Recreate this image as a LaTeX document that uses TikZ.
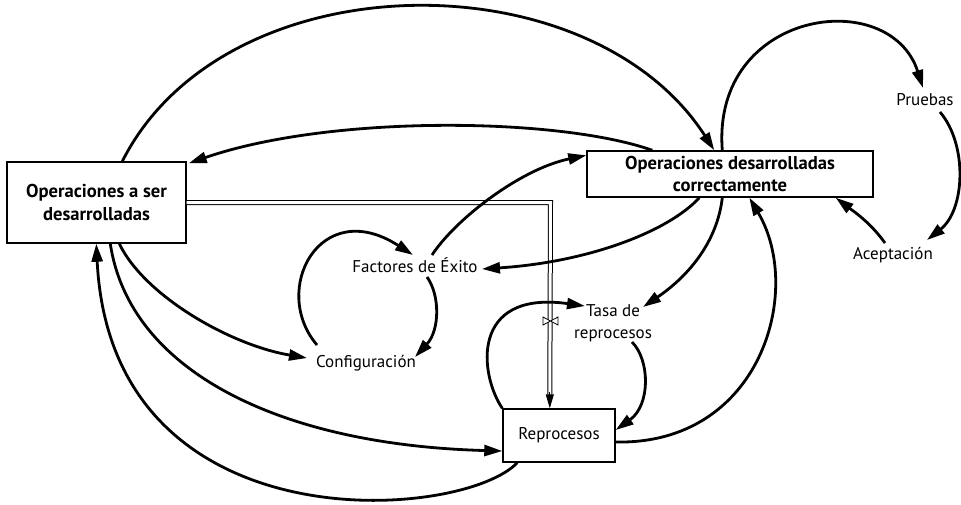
\documentclass[tikz,border=0pt]{standalone}
\usepackage{fontspec}
\setmainfont{PT Sans}
\usetikzlibrary{arrows.meta,calc}
\begin{document}
\begin{tikzpicture}[x=1pt,y=-1pt,
  every node/.style={font=\fontsize{17}{22}\selectfont, inner sep=1pt},
  stock/.style={draw, line width=1.4pt, align=center, inner sep=0pt,
                font=\bfseries\fontsize{18.6}{22.5}\selectfont},
  aux/.style={align=center},
  conn/.style={line width=2.8pt, -{Triangle[length=18pt,width=11pt]}},
  pipe/.style={double, double distance=3pt, line width=1pt},
  pipehead/.style={line width=1pt, -{Triangle[length=14pt,width=8pt]}},
  valve/.style={line width=0.8pt, fill=white}]
\useasboundingbox (0,0) rectangle (961,504);

% stocks
\node[stock, minimum width=179pt, minimum height=81pt] (A) at (96.5,202.5)
  {Operaciones a ser\\desarrolladas};
\node[stock, minimum width=286pt, minimum height=46pt] (B) at (730,174)
  {Operaciones desarrolladas\\correctamente};
\node[stock, font=\fontsize{17}{22}\selectfont, minimum width=112pt, minimum height=53pt] (R) at (559,435.5)
  {Reprocesos};

% auxiliary variables
\node[aux] (P)  at (925,100) {Pruebas};
\node[aux] (Ac) at (893,255) {Aceptación};
\node[aux] (F)  at (415,265) {Factores de Éxito};
\node[aux] (C)  at (366,363) {Configuración};
\node[aux] (T)  at (613,323) {Tasa de\\reprocesos};

% flow pipe from the first stock into Reprocesos, with its valve
\coordinate (pc) at (550.5,202.5);
\draw[pipe] (A.east) -- (pc) -- ($(R.north west)+(47.5,-14)$);
\draw[pipehead] ($(R.north west)+(47.5,-16)$) -- ($(R.north west)+(47.5,0)$);
\coordinate (v) at (550.5,321);
\draw[valve] ($(v)+(-7.5,-4)$) -- ($(v)+(7.5,4)$) -- ($(v)+(7.5,-4)$) -- ($(v)+(-7.5,4)$) -- cycle;

% causal links
\draw[conn] ($(A.north west)+(116,0)$) .. controls +(102,-202) and +(-125,-194) .. ($(B.north west)+(128,0)$);
\draw[conn] ($(B.north west)+(66,0)$) .. controls +(-93,-33) and +(142,-49) .. ($(A.north east)+(2,2)$);
\draw[conn] ($(F)+(17,-10)$) .. controls +(23,-35) and +(-67,14) .. ($(B.north west)+(0,5)$);
\draw[conn] ($(B.south west)+(113,0)$) .. controls +(-30,33) and +(108,-7) .. ($(F)+(67,4)$);
\draw[conn] ($(B.south west)+(136,0)$) .. controls +(-5,43) and +(47,-32) .. ($(T)+(30,-16)$);
\draw[conn] ($(R.east)+(0,6.5)$) .. controls +(145,3) and +(55,93) .. ($(B.south west)+(163,0)$);
\draw[conn] ($(B.north west)+(136,0)$) .. controls +(-11,-141) and +(-33,-103) .. ($(P)+(-2,-12)$);
\draw[conn] ($(P)+(15,12)$) .. controls +(28,33) and +(38,-30) .. ($(Ac)+(34,-15)$);
\draw[conn] ($(Ac)+(-8,-12)$) .. controls +(-15,-21) and +(17,13) .. ($(B.south east)+(-38,0)$);
\draw[conn] ($(C)+(-49,-18)$) .. controls +(-47,-55) and +(-93,-60) .. ($(F)+(-2,-10)$);
\draw[conn] ($(F)+(12,12)$) .. controls +(13,18) and +(25,-27) .. ($(C)+(49,-6)$);
\draw[conn] ($(A.south west)+(113,0)$) .. controls +(25,52) and +(-77,-13) .. ($(C)+(-59,-5)$);
\draw[conn] ($(A.south west)+(104,0)$) .. controls +(19,127) and +(-223,-6) .. ($(R.west)+(0,15.5)$);
\draw[conn] ($(R.south west)+(15,0)$) .. controls +(-55,58) and +(15,305) .. ($(A.south west)+(90,0)$);
\draw[conn] (R.north west) .. controls +(-23,-34) and +(-115,-16) .. ($(T)+(-28,-17)$);
\draw[conn] ($(T)+(19,19)$) .. controls +(18,18) and +(35,-25) .. ($(R.east)+(0,-5.5)$);
\end{tikzpicture}
\end{document}
